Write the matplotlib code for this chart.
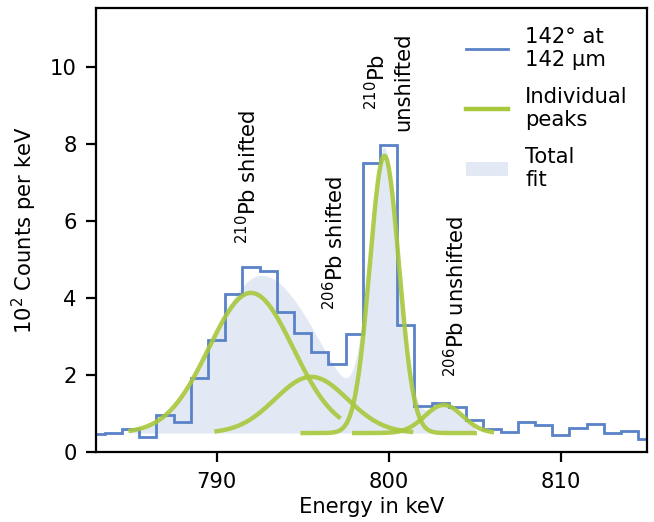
import numpy as np
import matplotlib.pyplot as plt
from matplotlib.lines import Line2D
from matplotlib.patches import Patch

plt.rcParams['font.size'] = 7.6

# histogram (1 keV bins, centres)
centers = np.arange(783, 816)
counts = [0.48, 0.49, 0.61, 0.40, 0.98, 0.79, 1.92, 2.91, 4.12, 4.80, 4.71,
          3.65, 3.09, 2.61, 2.29, 3.08, 7.51, 7.97, 3.30, 1.20, 1.27, 1.17,
          0.84, 0.60, 0.53, 0.79, 0.71, 0.45, 0.62, 0.73, 0.49, 0.56, 0.34]

# fitted peaks: centre, amplitude, sigma, plot range
bg = 0.5
peak_mu = [792.0, 795.5, 799.75, 803.2]
peak_amp = [3.64, 1.46, 7.2, 0.73]
peak_sig = [2.45, 2.1, 0.85, 1.1]
peak_lo = [785.0, 790.0, 795.0, 798.0]
peak_hi = [797.1, 801.3, 805.0, 806.0]
fit_range = (785.0, 805.0)

labels = ['$^{210}$Pb shifted', '$^{206}$Pb shifted',
          '$^{210}$Pb\nunshifted', '$^{206}$Pb unshifted']
label_x = [791.8, 796.85, 800.0, 803.9]
label_y = [5.4, 3.7, 8.35, 1.95]

blue = '#5a82c8'
green = '#a8c83c'
fill = '#e3e9f4'


def gauss(x, mu, a, s):
    return a * np.exp(-(x - mu)**2 / (2 * s**2))


fig = plt.figure(figsize=(3.27, 2.61), dpi=200)
ax = fig.add_axes([0.147, 0.1335, 0.842, 0.852])

# total fit
xf = np.linspace(*fit_range, 400)
total = bg + sum(gauss(xf, m, a, s) for m, a, s in zip(peak_mu, peak_amp, peak_sig))
ax.fill_between(xf, bg, total, color=fill, lw=0)

# individual peaks
for m, a, s, lo, hi in zip(peak_mu, peak_amp, peak_sig, peak_lo, peak_hi):
    xp = np.linspace(lo, hi, 300)
    ax.plot(xp, bg + gauss(xp, m, a, s), color=green, lw=1.6, alpha=0.9)

# data
edges = np.append(centers - 0.5, centers[-1] + 0.5)
ax.stairs(counts, edges, color=blue, lw=1.0, baseline=None)

for t, x, y in zip(labels, label_x, label_y):
    ax.text(x, y, t, rotation=90, ha='center', va='bottom', multialignment='center')

ax.set_xlim(783, 815)
ax.set_ylim(0, 11.55)
ax.set_xticks([790, 800, 810])
ax.set_yticks([0, 2, 4, 6, 8, 10])
ax.set_xlabel('Energy in keV', labelpad=2)
ax.set_ylabel('10$^2$ Counts per keV')

handles = [Line2D([], [], color=blue, lw=1.0),
           Line2D([], [], color=green, lw=1.6),
           Patch(color=fill, lw=0)]
ax.legend(handles, ['142° at\n142 µm', 'Individual\npeaks', 'Total\nfit'],
          loc='upper right', frameon=False, labelspacing=0.8,
          handlelength=2.0, borderaxespad=0.5)

fig.savefig('out.png', dpi=200)
